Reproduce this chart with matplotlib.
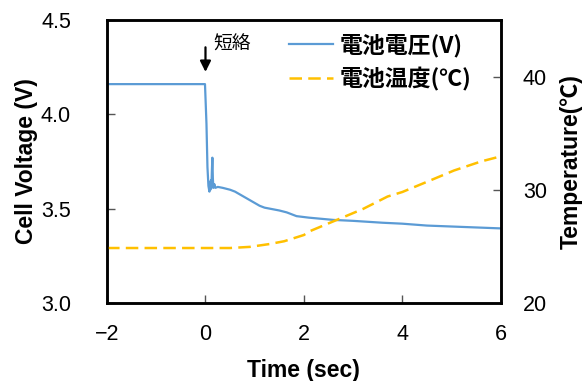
"""Cell voltage and temperature after short circuit."""
import matplotlib
matplotlib.use('Agg')
import matplotlib.pyplot as plt

# voltage trace (sec, V)
t_volt = [-2.0, -1.0, -0.01, 0.02, 0.04, 0.06, 0.08, 0.09, 0.10, 0.11, 0.12, 0.13,
          0.14, 0.15, 0.16, 0.18, 0.20, 0.25, 0.35, 0.5, 0.6, 0.7, 0.8, 0.9, 1.0,
          1.1, 1.2, 1.3, 1.5, 1.65, 1.75, 1.85, 2.1, 2.6, 3.0, 3.6, 4.0, 4.5,
          5.0, 5.5, 6.0]
volt = [4.16, 4.16, 4.16, 3.95, 3.72, 3.62, 3.59, 3.64, 3.60, 3.65, 3.61, 3.70,
        3.77, 3.66, 3.61, 3.63, 3.61, 3.615, 3.61, 3.60, 3.59, 3.575, 3.56, 3.545, 3.53,
        3.515, 3.505, 3.50, 3.49, 3.48, 3.47, 3.46, 3.452, 3.44, 3.435, 3.425, 3.42, 3.41,
        3.405, 3.40, 3.395]

# temperature trace (sec, degC)
t_temp = [-2.0, -1.0, 0.0, 0.5, 0.9, 1.3, 1.6, 2.0, 2.1, 2.65, 3.2, 3.7, 4.0,
          4.5, 5.05, 5.6, 6.0]
temp = [24.85, 24.85, 24.85, 24.85, 24.95, 25.2, 25.45, 26.0, 26.3, 27.3, 28.3, 29.4, 29.8,
        30.7, 31.7, 32.5, 32.95]

x_ticks = [-2, 0, 2, 4, 6]
v_ticks = [3.0, 3.5, 4.0, 4.5]
t_ticks = [20, 30, 40]

plt.rcParams['font.family'] = ['Liberation Sans', 'Noto Sans CJK JP', 'DejaVu Sans']
jp_font = ['Noto Sans CJK JP', 'DejaVu Sans']

fig = plt.figure(figsize=(5.85, 3.81), dpi=100)
ax = fig.add_axes([0.183, 0.205, 0.673, 0.7425])
ax2 = ax.twinx()

l1, = ax.plot(t_volt, volt, color='#5B9BD5', lw=1.6, label='電池電圧(V)')
l2, = ax2.plot(t_temp, temp, color='#FFC000', lw=1.8, dashes=(5, 2.5),
               label='電池温度(℃)')

ax.set_xlim(-2, 6)
ax.set_ylim(3.0, 4.5)
ax2.set_ylim(20, 45)
ax.set_xticks(x_ticks)
ax.set_xticklabels(['\u22122', '0', '2', '4', '6'])
ax.set_yticks(v_ticks)
ax.set_yticklabels(['%.1f' % v for v in v_ticks])
ax2.set_yticks(t_ticks)

for a in (ax, ax2):
    a.tick_params(direction='in', labelsize=15.5, length=6, width=1, color='#555555')
    for s in a.spines.values():
        s.set_linewidth(1.8)
ax.tick_params(axis='x', pad=15)
ax.tick_params(axis='y', pad=26)
ax2.tick_params(axis='y', pad=16)

ax.set_xlabel('Time (sec)', fontsize=16.5, fontweight='bold', labelpad=10)
ax.set_ylabel('Cell Voltage (V)', fontsize=16.5, fontweight='bold', labelpad=2)
ax2.set_ylabel('Temperature(℃)', fontsize=16.5, fontweight='bold', labelpad=9,
               family=['Liberation Sans', 'Noto Sans CJK JP'])

# short-circuit marker
ax.annotate('', xy=(0.0, 4.21), xytext=(0.0, 4.37),
            arrowprops=dict(arrowstyle='-|>', color='black', lw=1.6, mutation_scale=16))
ax.text(0.15, 4.37, '短絡', fontsize=13.5, family=jp_font, va='center', ha='left')

ax.legend(handles=[l1, l2], loc='upper left', bbox_to_anchor=(0.41, 1.025),
          frameon=False, handlelength=1.9, handletextpad=0.3, labelspacing=0.45,
          prop={'family': jp_font, 'size': 16.5, 'weight': 'bold'})

fig.savefig('out.png', dpi=100)
